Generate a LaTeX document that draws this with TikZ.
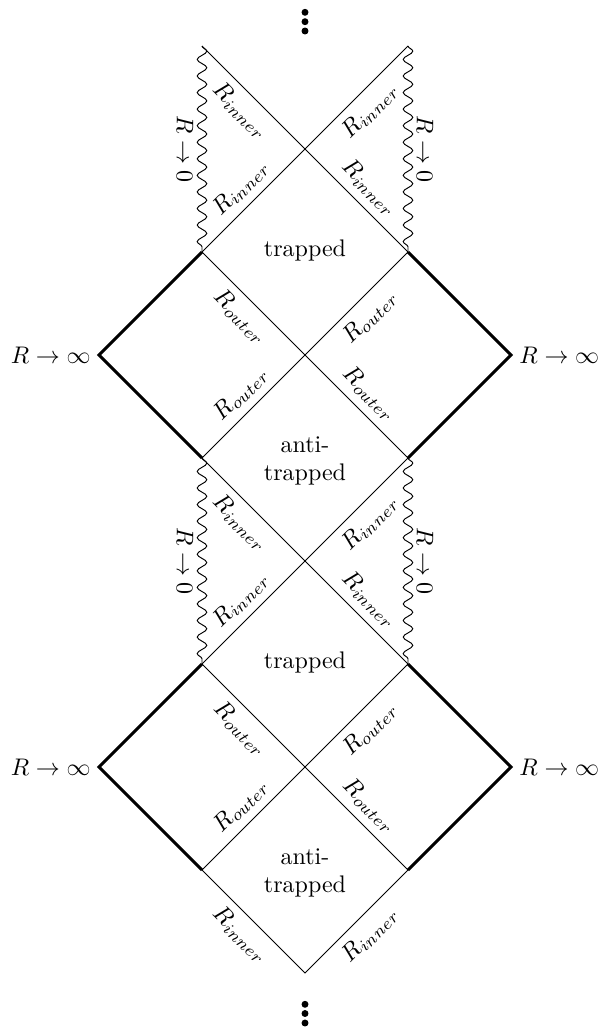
\documentclass[tikz,border=0pt]{standalone}
\usetikzlibrary{decorations.pathmorphing}
\begin{document}
\begin{tikzpicture}[x=0.41667pt,y=-0.41667pt,
  hor/.style={line width=0.4pt},
  bound/.style={line width=1.2pt, line join=miter},
  sing/.style={line width=0.4pt, decorate, decoration={snake, amplitude=2pt, segment length=6.9pt}},
  lab/.style={sloped},
  dotnode/.style={fill=black, circle, inner sep=0pt, minimum size=2.9pt}]
\useasboundingbox (0,0) rectangle (602,1030);
% grid
\coordinate (a0) at (202,46);  \coordinate (b0) at (408,46);
\coordinate (a2) at (202,252); \coordinate (b2) at (408,252);
\coordinate (l3) at (99,355);  \coordinate (r3) at (511,355);
\coordinate (a4) at (202,458); \coordinate (b4) at (408,458);
\coordinate (a6) at (202,664); \coordinate (b6) at (408,664);
\coordinate (l7) at (99,767);  \coordinate (r7) at (511,767);
\coordinate (a8) at (202,870); \coordinate (b8) at (408,870);
\coordinate (c9) at (305,973);
% singularities
\draw[sing] (a0) -- (a2);
\draw[sing] (b0) -- (b2);
\draw[sing] (a4) -- (a6);
\draw[sing] (b4) -- (b6);
% horizons
\draw[hor] (a0) -- node[lab,pos=.25,below]{$R_{inner}$} node[lab,pos=.75,above]{$R_{inner}$} (b2);
\draw[hor] (b0) -- node[lab,pos=.25,below]{$R_{inner}$} node[lab,pos=.75,above]{$R_{inner}$} (a2);
\draw[hor] (a2) -- node[lab,pos=.25,below]{$R_{outer}$} node[lab,pos=.75,above]{$R_{outer}$} (b4);
\draw[hor] (b2) -- node[lab,pos=.25,below]{$R_{outer}$} node[lab,pos=.75,above]{$R_{outer}$} (a4);
\draw[hor] (a4) -- node[lab,pos=.25,below]{$R_{inner}$} node[lab,pos=.75,above]{$R_{inner}$} (b6);
\draw[hor] (b4) -- node[lab,pos=.25,below]{$R_{inner}$} node[lab,pos=.75,above]{$R_{inner}$} (a6);
\draw[hor] (a6) -- node[lab,pos=.25,below]{$R_{outer}$} node[lab,pos=.75,above]{$R_{outer}$} (b8);
\draw[hor] (b6) -- node[lab,pos=.25,below]{$R_{outer}$} node[lab,pos=.75,above]{$R_{outer}$} (a8);
\draw[hor] (a8) -- node[lab,pos=.5,below]{$R_{inner}$} (c9) -- node[lab,pos=.5,below]{$R_{inner}$} (b8);
% infinity boundaries
\draw[bound] (a2) -- (l3) -- (a4);
\draw[bound] (b2) -- (r3) -- (b4);
\draw[bound] (a6) -- (l7) -- (a8);
\draw[bound] (b6) -- (r7) -- (b8);
% labels
\node[left]  (linf1) at (l3) {$R\to\infty$};
\node[right] (rinf1) at (r3) {$R\to\infty$};
\node[left]  (linf2) at (l7) {$R\to\infty$};
\node[right] (rinf2) at (r7) {$R\to\infty$};
\node[rotate=-90] (lzero1) at (185,149) {$R\to0$};
\node[rotate=-90] (rzero1) at (425,149) {$R\to0$};
\node[rotate=-90] (lzero2) at (185,561) {$R\to0$};
\node[rotate=-90] (rzero2) at (425,561) {$R\to0$};
\node (trap1) at (305,250) {trapped};
\node (trap2) at (305,662) {trapped};
\node[align=center] (anti1) at (305,461) {anti-\\trapped};
\node[align=center] (anti2) at (305,873) {anti-\\trapped};
% dots
\node[dotnode] (dt1) at (305,12.3) {};
\node[dotnode] (dt2) at (305,21.7) {};
\node[dotnode] (dt3) at (305,31) {};
\node[dotnode] (db1) at (305,1004.3) {};
\node[dotnode] (db2) at (305,1013.5) {};
\node[dotnode] (db3) at (305,1023) {};
\end{tikzpicture}
\end{document}
